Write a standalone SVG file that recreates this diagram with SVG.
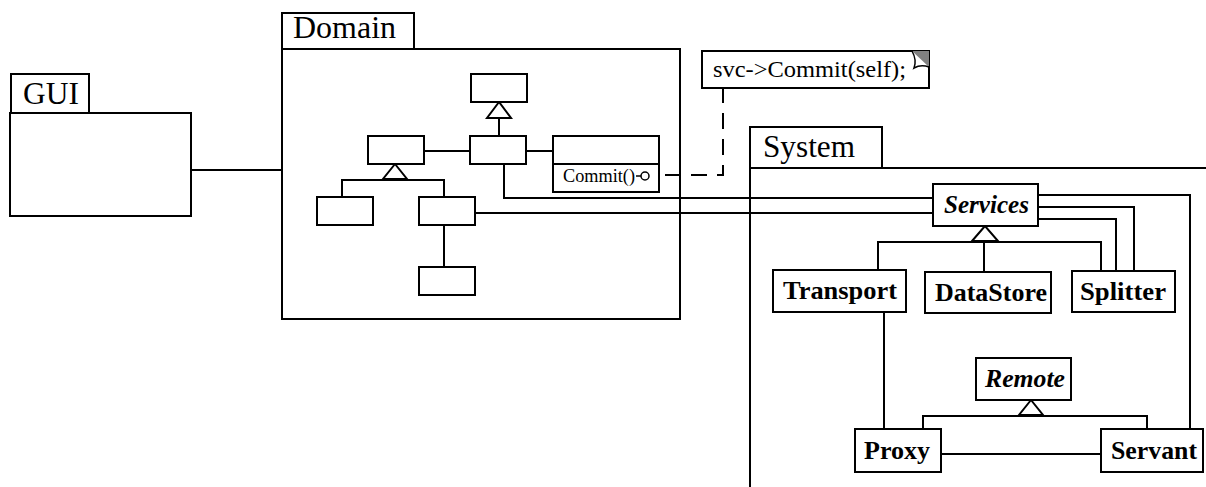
<svg xmlns="http://www.w3.org/2000/svg" width="1206" height="487" viewBox="0 0 1206 487">
<style>
rect,path,polygon,line{stroke:#000;stroke-width:2;fill:none}
rect{fill:#fff}
.tri{fill:#fff}
text{font-family:'Liberation Serif','Times New Roman',Times,serif;fill:#000}
.h{font-size:31px}
.c{font-size:26px;font-weight:bold}
.i{font-style:italic}
.dash{stroke-dasharray:16,10}
</style>
<rect x="0" y="0" width="1206" height="487" style="stroke:none;fill:#fff"/>
<g id="connectors">
<line x1="191" y1="170" x2="282" y2="170"/>
<path d="M504,164 V198 H933"/>
<line x1="475" y1="213" x2="933" y2="213"/>
<line x1="424" y1="151" x2="470" y2="151"/>
<line x1="526" y1="151" x2="553" y2="151"/>
<line x1="499" y1="118" x2="499" y2="136"/>
<path d="M342,197 V180 H444 V197"/>
<line x1="444" y1="225" x2="444" y2="267"/>
<path class="dash" d="M665,175 H723 V88"/>
<path d="M1038,195 H1190 V429"/>
<path d="M1038,207 H1134 V271"/>
<path d="M1038,219 H1116 V271"/>
<path d="M878,270 V242 H1101 V271"/>
<line x1="984" y1="242" x2="984" y2="272"/>
<line x1="884" y1="312" x2="884" y2="429"/>
<path d="M923,429 V416 H1147 V429"/>
<line x1="941" y1="454" x2="1101" y2="454"/>
<polygon class="tri" points="499,102 487,118 511,118"/>
<polygon class="tri" points="395,164 383,179 407,179"/>
<polygon class="tri" points="985,226 972,241 998,241"/>
<polygon class="tri" points="1031,400 1019,415 1043,415"/>
</g>
<g id="GUI">
<rect x="11" y="74" width="78" height="39"/>
<rect x="10" y="113" width="181" height="103"/>
<text class="h" x="23" y="104" textLength="56" lengthAdjust="spacingAndGlyphs">GUI</text>
</g>
<g id="Domain">
<rect x="282" y="13" width="132" height="36"/>
<rect x="282" y="49" width="398" height="270" style="fill:none"/>
<text class="h" x="293" y="38" textLength="103" lengthAdjust="spacingAndGlyphs">Domain</text>
</g>
<g id="d-top"><rect x="471" y="74" width="56" height="28"/></g>
<g id="d-center"><rect x="470" y="136" width="56" height="28"/></g>
<g id="d-left"><rect x="368" y="136" width="56" height="28"/></g>
<g id="d-bl"><rect x="317" y="197" width="56" height="28"/></g>
<g id="d-bm"><rect x="419" y="197" width="56" height="28"/></g>
<g id="d-bottom"><rect x="419" y="267" width="56" height="28"/></g>
<g id="d-commit">
<rect x="553" y="136" width="106" height="56"/>
<line x1="553" y1="164" x2="659" y2="164"/>
<text x="563" y="182" font-size="18" textLength="72" lengthAdjust="spacingAndGlyphs">Commit()</text>
<line x1="636" y1="176" x2="641" y2="176" style="stroke-width:1.5"/>
<circle cx="645" cy="176" r="4" style="fill:#fff;stroke:#000;stroke-width:1.5"/>
</g>
<g id="note">
<rect x="702" y="51" width="227" height="37"/>
<polygon points="912,51 929,51 929,67" style="fill:#808080;stroke:none"/>
<path d="M912,51 Q917,60 914,68 Q921,64 929,67" style="stroke-width:1.5"/>
<text x="713" y="77" font-size="24" textLength="193" lengthAdjust="spacingAndGlyphs">svc-&gt;Commit(self);</text>
</g>
<g id="System">
<rect x="750" y="127" width="132" height="41"/>
<path d="M1206,168 H750 V487"/>
<text class="h" x="763" y="157" textLength="92" lengthAdjust="spacingAndGlyphs">System</text>
</g>
<g id="Services">
<rect x="933" y="184" width="105" height="42"/>
<text class="c i" x="944" y="213" textLength="85" lengthAdjust="spacingAndGlyphs">Services</text>
</g>
<g id="Transport">
<rect x="773" y="270" width="133" height="42"/>
<text class="c" x="783" y="299" textLength="114" lengthAdjust="spacingAndGlyphs">Transport</text>
</g>
<g id="DataStore">
<rect x="925" y="272" width="126" height="41"/>
<text class="c" x="935" y="301" textLength="112" lengthAdjust="spacingAndGlyphs">DataStore</text>
</g>
<g id="Splitter">
<rect x="1072" y="271" width="103" height="41"/>
<text class="c" x="1080" y="300" textLength="86" lengthAdjust="spacingAndGlyphs">Splitter</text>
</g>
<g id="Remote">
<rect x="976" y="358" width="95" height="42"/>
<text class="c i" x="985" y="387" textLength="80" lengthAdjust="spacingAndGlyphs">Remote</text>
</g>
<g id="Proxy">
<rect x="855" y="429" width="86" height="43"/>
<text class="c" x="864" y="459" textLength="66" lengthAdjust="spacingAndGlyphs">Proxy</text>
</g>
<g id="Servant">
<rect x="1101" y="429" width="102" height="43"/>
<text class="c" x="1111" y="459" textLength="86" lengthAdjust="spacingAndGlyphs">Servant</text>
</g>
</svg>
